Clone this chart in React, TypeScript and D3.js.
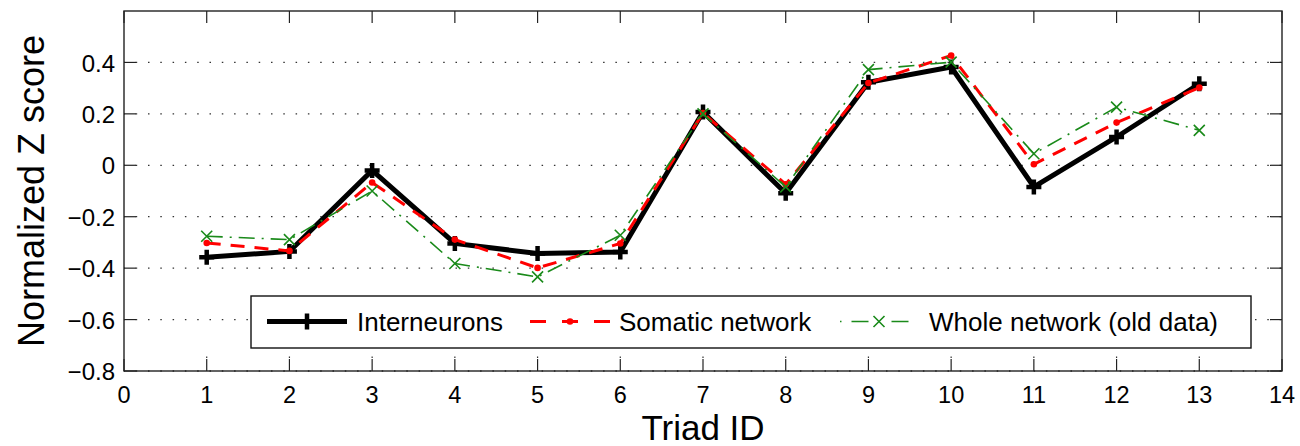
import React from "react";
import * as d3 from "d3";

const triads = [1, 2, 3, 4, 5, 6, 7, 8, 9, 10, 11, 12, 13];
const interneurons = [-0.358, -0.335, -0.02, -0.304, -0.343, -0.337, 0.207, -0.109, 0.323, 0.382, -0.084, 0.11, 0.317];
const somatic = [-0.302, -0.333, -0.067, -0.289, -0.399, -0.304, 0.203, -0.074, 0.32, 0.427, 0.004, 0.166, 0.302];
const whole = [-0.276, -0.289, -0.1, -0.382, -0.434, -0.272, 0.2, -0.084, 0.372, 0.401, 0.045, 0.226, 0.136];
const xTicks = [0, 1, 2, 3, 4, 5, 6, 7, 8, 9, 10, 11, 12, 13, 14];
const yTicks = [-0.8, -0.6, -0.4, -0.2, 0, 0.2, 0.4];
const seriesNames = ["Interneurons", "Somatic network", "Whole network (old data)"];

const FONT = "'Liberation Sans', Arial, Helvetica, sans-serif";

export default function App() {
  const left = 124, right = 1282, top = 11, bottom = 371;
  const x = d3.scaleLinear().domain([0, 14]).range([left, right]);
  const y = d3.scaleLinear().domain([-0.8, 0.6]).range([bottom, top]);
  const tickLen = 12;

  const mk = (vals: number[]) =>
    d3.line<number>().x((_, i) => x(triads[i])).y((v) => y(v))(vals) || "";

  const fmt = (v: number) => {
    if (Math.abs(v) < 1e-9) return "0";
    const s = Math.abs(v).toFixed(1);
    return (v < 0 ? "\u2212" : "") + s;
  };

  const green = "#1a8a1a";
  const red = "#ff0000";

  const plus = (cx: number, cy: number, s: number, key: string) => (
    <path key={key} d={`M${cx - s},${cy}H${cx + s}M${cx},${cy - s}V${cy + s}`} stroke="#000" strokeWidth={4.5} fill="none" />
  );
  const cross = (cx: number, cy: number, s: number, key: string) => (
    <path key={key} d={`M${cx - s},${cy - s}L${cx + s},${cy + s}M${cx - s},${cy + s}L${cx + s},${cy - s}`} stroke={green} strokeWidth={1.6} fill="none" />
  );

  // legend geometry
  const lgY = 321.5;
  const entries = [
    { sx: 267, tx: 357 },
    { sx: 530, tx: 619 },
    { sx: 840, tx: 929 },
  ];

  return (
    <svg width={1300} height={446} style={{ position: "absolute", left: 0, top: 0, background: "#fff" }} fontFamily={FONT}>
      <rect x={0} y={0} width={1300} height={446} fill="#fff" />
      {/* horizontal dotted grid */}
      {yTicks.map((t) => (
        <line key={"hg" + t} x1={left} x2={right} y1={y(t)} y2={y(t)} stroke="#333" strokeWidth={1.3} strokeDasharray="1.5 10.8" strokeDashoffset={0.6} />
      ))}
      {/* vertical grid (sparse dots) */}
      {xTicks.slice(1, -1).map((t) => (
        <line key={"vg" + t} x1={x(t)} x2={x(t)} y1={bottom} y2={top} stroke="#333" strokeWidth={1.2} strokeDasharray="0 13 1.5 1000" />
      ))}
      {/* ticks */}
      {xTicks.map((t) => (
        <g key={"xt" + t}>
          <line x1={x(t)} x2={x(t)} y1={bottom} y2={bottom - tickLen} stroke="#222" strokeWidth={1.2} />
          <line x1={x(t)} x2={x(t)} y1={top} y2={top + tickLen} stroke="#222" strokeWidth={1.2} />
          <text x={x(t)} y={403} textAnchor="middle" fontSize={23.5} fill="#000">{t}</text>
        </g>
      ))}
      {yTicks.map((t) => (
        <g key={"yt" + t}>
          <line x1={left} x2={left + tickLen} y1={y(t)} y2={y(t)} stroke="#222" strokeWidth={1.2} />
          <line x1={right} x2={right - tickLen} y1={y(t)} y2={y(t)} stroke="#222" strokeWidth={1.2} />
          <text x={left - 9} y={y(t) + 9.2} textAnchor="end" fontSize={24} fill="#000">{fmt(t)}</text>
        </g>
      ))}
      {/* axis labels */}
      <text x={(left + right) / 2} y={440} textAnchor="middle" fontSize={35} fill="#000">Triad ID</text>
      <text transform={`translate(43.5,${(top + bottom) / 2}) rotate(-90)`} textAnchor="middle" fontSize={36} fill="#000">Normalized Z score</text>

      {/* series */}
      <path d={mk(interneurons)} stroke="#000" strokeWidth={5} fill="none" strokeLinejoin="miter" />
      {interneurons.map((v, i) => plus(x(triads[i]), y(v), 7.5, "p" + i))}
      <path d={mk(somatic)} stroke={red} strokeWidth={3} fill="none" strokeDasharray="14 10" />
      {somatic.map((v, i) => (
        <circle key={"c" + i} cx={x(triads[i])} cy={y(v)} r={3.3} fill={red} />
      ))}
      <path d={mk(whole)} stroke={green} strokeWidth={1.6} fill="none" strokeDasharray="16 7 2 7" />
      {whole.map((v, i) => cross(x(triads[i]), y(v), 5.5, "x" + i))}

      {/* legend */}
      <rect x={251} y={296} width={1000} height={52} fill="#fff" stroke="#111" strokeWidth={1.4} />
      <line x1={entries[0].sx} x2={entries[0].sx + 80} y1={lgY} y2={lgY} stroke="#000" strokeWidth={5} />
      {plus(entries[0].sx + 40, lgY, 8, "lp")}
      <line x1={entries[1].sx} x2={entries[1].sx + 80} y1={lgY} y2={lgY} stroke={red} strokeWidth={3} strokeDasharray="16 16 16 16 16" />
      <circle cx={entries[1].sx + 40} cy={lgY} r={3.3} fill={red} />
      <line x1={entries[2].sx} x2={entries[2].sx + 78} y1={lgY} y2={lgY} stroke={green} strokeWidth={1.6} strokeDasharray="1.5 10 17 23 17 10 1.5" />
      {cross(entries[2].sx + 39, lgY, 5.5, "lx")}
      {seriesNames.map((n, i) => (
        <text key={n} x={entries[i].tx} y={lgY + 9.3} fontSize={26} fill="#000">{n}</text>
      ))}

      {/* frame */}
      <rect x={left} y={top} width={right - left} height={bottom - top} fill="none" stroke="#222" strokeWidth={1.4} />
    </svg>
  );
}
